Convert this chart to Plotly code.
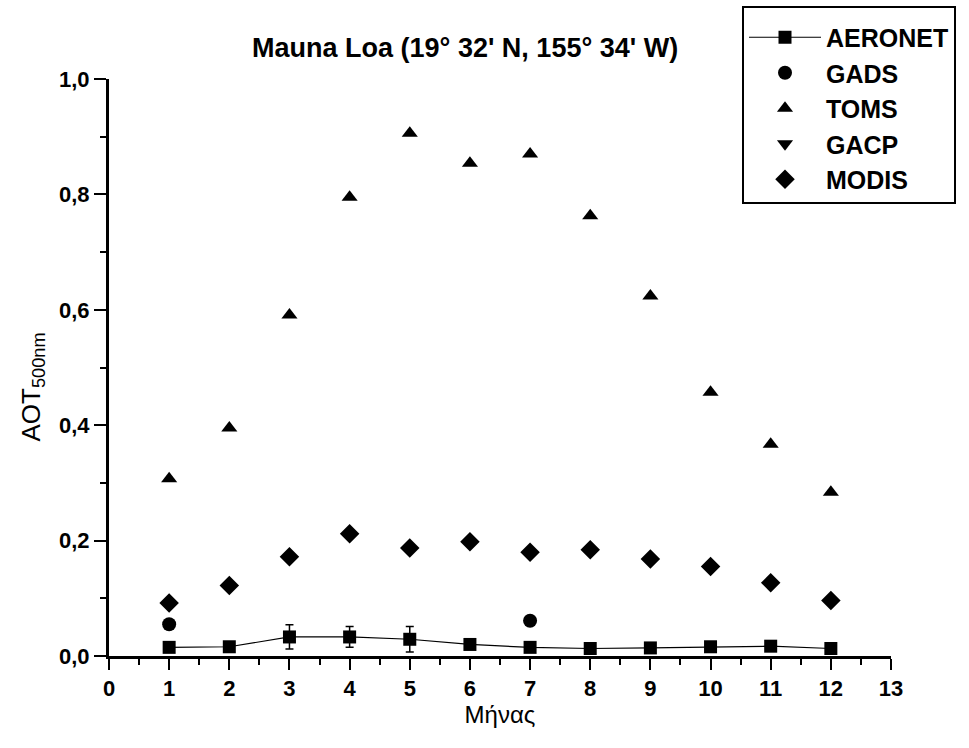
import plotly.graph_objects as go

months = [1, 2, 3, 4, 5, 6, 7, 8, 9, 10, 11, 12]
aeronet = [0.015, 0.016, 0.033, 0.033, 0.029, 0.020, 0.015, 0.013, 0.014, 0.016, 0.017, 0.013]
aeronet_err = [0.004, 0.004, 0.021, 0.018, 0.022, 0.004, 0.004, 0.004, 0.004, 0.004, 0.004, 0.004]
gads_months = [1, 7]
gads = [0.055, 0.061]
toms = [0.307, 0.395, 0.591, 0.795, 0.906, 0.854, 0.870, 0.763, 0.624, 0.457, 0.367, 0.284]
gacp_months = []
gacp = []
modis = [0.092, 0.122, 0.172, 0.212, 0.187, 0.198, 0.180, 0.184, 0.168, 0.155, 0.127, 0.096]

x_ticks = list(range(0, 14))
y_ticks = [0.0, 0.2, 0.4, 0.6, 0.8, 1.0]
y_ticktext = ["0,0", "0,2", "0,4", "0,6", "0,8", "1,0"]

FONT = "Arial, 'Liberation Sans', sans-serif"

fig = go.Figure()
fig.add_trace(go.Scatter(
    x=months, y=aeronet, name="AERONET", mode="lines+markers",
    line=dict(color="black", width=1.2),
    marker=dict(symbol="square", size=13, color="black"),
    error_y=dict(type="data", array=aeronet_err, color="black", thickness=1.5, width=4),
    legendgroup="a"))
fig.add_trace(go.Scatter(
    x=gads_months, y=gads, name="GADS", mode="markers",
    marker=dict(symbol="circle", size=14, color="black"), legendgroup="b"))
fig.add_trace(go.Scatter(
    x=months, y=toms, name="TOMS", mode="markers",
    marker=dict(symbol="triangle-up", size=14, color="black"), legendgroup="c"))
fig.add_trace(go.Scatter(
    x=gacp_months if gacp_months else [None], y=gacp if gacp else [None], name="GACP", mode="markers",
    marker=dict(symbol="triangle-down", size=14, color="black"), legendgroup="d"))
fig.add_trace(go.Scatter(
    x=months, y=modis, name="MODIS", mode="markers",
    marker=dict(symbol="diamond", size=15, color="black"), legendgroup="e"))

fig.update_layout(
    width=969, height=748,
    margin=dict(l=109, r=78, t=79, b=92, autoexpand=False),
    paper_bgcolor="white", plot_bgcolor="white",
    font=dict(family=FONT, color="black", size=20),
    title=dict(text="Mauna Loa (19° 32' N, 155° 34' W)", x=0.48, xref="container", xanchor="center",
               y=1 - 48 / 748, yref="container", yanchor="middle",
               font=dict(size=27, weight="bold", color="black", family=FONT)),
    showlegend=True,
    legend=dict(x=(742 - 109) / 782, xanchor="left", y=1 + (79 - 6) / 577, yanchor="top",
                bordercolor="black", borderwidth=2, bgcolor="white",
                font=dict(size=25, weight="bold", family=FONT, color="black"),
                title=dict(text=" ", font=dict(size=5)),
                tracegroupgap=0, itemwidth=72),
    annotations=[dict(
        text="AOT<sub>500nm</sub>", textangle=-90, showarrow=False,
        xref="paper", yref="paper", x=-(109 - 32) / 782, y=(656.5 - 388) / 577,
        xanchor="center", yanchor="middle",
        font=dict(size=26, family=FONT, color="black"))],
)
fig.update_xaxes(
    range=[0, 13], tickvals=x_ticks, ticktext=[str(v) for v in x_ticks],
    showline=True, linecolor="black", linewidth=3, mirror=False,
    ticks="outside", ticklen=11, tickwidth=2, tickcolor="black",
    minor=dict(dtick=0.5, tick0=0, ticks="outside", ticklen=6, tickwidth=2, tickcolor="black"),
    showgrid=False, zeroline=False,
    tickfont=dict(size=22, weight="bold", family=FONT),
    title=dict(text="Μήνας", font=dict(size=24, family=FONT), standoff=2),
)
fig.update_yaxes(
    range=[0, 1], tickvals=y_ticks, ticktext=y_ticktext,
    showline=True, linecolor="black", linewidth=3, mirror=False,
    ticks="outside", ticklen=12, tickwidth=2, tickcolor="black",
    minor=dict(dtick=0.1, tick0=0, ticks="outside", ticklen=6, tickwidth=2, tickcolor="black"),
    showgrid=False, zeroline=False,
    tickfont=dict(size=22, weight="bold", family=FONT),
)

fig.write_html("out.html")
